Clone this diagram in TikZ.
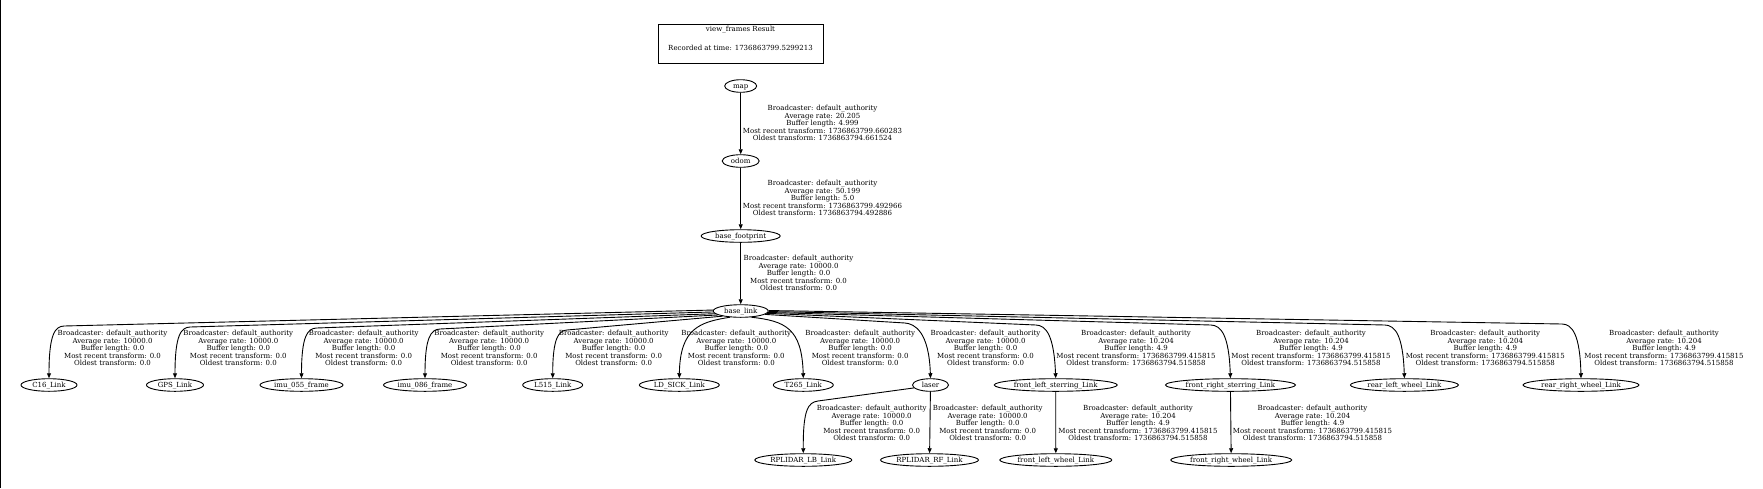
\documentclass[tikz,border=0pt]{standalone}
\usepackage{fontspec}
\setmainfont{DejaVu Serif}
\usetikzlibrary{shapes.geometric,arrows.meta}
\newcommand{\nt}[1]{\raisebox{-2.3pt}[0pt][0pt]{\makebox[0pt]{#1}}}
\begin{document}
\begin{tikzpicture}[x=1pt,y=-1pt,
  font=\fontsize{7.0}{7.5}\selectfont,
  nd/.style={draw, ellipse, inner sep=0pt, minimum height=12.6pt, line width=0.9pt},
  lbl/.style={align=center, inner sep=0pt},
  edge/.style={draw, line width=0.9pt, -{Triangle[length=5pt,width=4pt]}}]
\useasboundingbox (0,0) rectangle (1763,488);
\draw[line width=1pt] (0.5,0) -- (0.5,488);
% title
\node[draw, line width=0.9pt, minimum width=165pt, minimum height=39pt, inner sep=0pt] (title) at (740.5,43.5) {};
\node[inner sep=0pt] (t1) at (740.5,30) {view\_frames Result};
\node[inner sep=0pt] (t2) at (740.5,48) {Recorded at time: 1736863799.5299213};
% nodes
\node[nd, minimum width=32pt] (map) at (740.7,86) {\nt{map}};
\node[nd, minimum width=37pt] (odom) at (740.7,161) {\nt{odom}};
\node[nd, minimum width=79pt] (bf) at (740.7,236) {\nt{base\_footprint}};
\node[nd, minimum width=55pt] (bl) at (740.7,311) {\nt{base\_link}};
\node[nd, minimum width=56pt] (c16) at (49,385) {\nt{C16\_Link}};
\node[nd, minimum width=57pt] (gps) at (175,385) {\nt{GPS\_Link}};
\node[nd, minimum width=83pt] (imu55) at (301.5,385) {\nt{imu\_055\_frame}};
\node[nd, minimum width=83pt] (imu86) at (425,385) {\nt{imu\_086\_frame}};
\node[nd, minimum width=60pt] (l515) at (552.7,385) {\nt{L515\_Link}};
\node[nd, minimum width=80pt] (ld) at (679.3,385) {\nt{LD\_SICK\_Link}};
\node[nd, minimum width=60pt] (t265) at (803.3,385) {\nt{T265\_Link}};
\node[nd, minimum width=36pt] (laser) at (930.5,385) {\nt{laser}};
\node[nd, minimum width=123pt] (fls) at (1055.7,385) {\nt{front\_left\_sterring\_Link}};
\node[nd, minimum width=130pt] (frs) at (1230.4,385) {\nt{front\_right\_sterring\_Link}};
\node[nd, minimum width=108pt] (rlw) at (1404.4,385) {\nt{rear\_left\_wheel\_Link}};
\node[nd, minimum width=116pt] (rrw) at (1581,385) {\nt{rear\_right\_wheel\_Link}};
\node[nd, minimum width=97pt] (lb) at (803.3,460) {\nt{RPLIDAR\_LB\_Link}};
\node[nd, minimum width=98pt] (rf) at (929.5,460) {\nt{RPLIDAR\_RF\_Link}};
\node[nd, minimum width=112pt] (flw) at (1055.8,460) {\nt{front\_left\_wheel\_Link}};
\node[nd, minimum width=121pt] (frw) at (1231.2,460) {\nt{front\_right\_wheel\_Link}};
% edges
\draw[edge] (map) -- (odom);
\draw[edge] (odom) -- (bf);
\draw[edge] (bf) -- (bl);
\draw[edge] (bl.178) -- (64,326) .. controls (55,326.4) and (49,334) .. (c16.north);
\draw[edge] (bl.182) -- (190,327) .. controls (181,327.4) and (175,335) .. (gps.north);
\draw[edge] (bl.186) -- (316.5,328) .. controls (307.5,328.4) and (301.5,336) .. (imu55.north);
\draw[edge] (bl.190) -- (440,329) .. controls (431,329.4) and (425,337) .. (imu86.north);
\draw[edge] (bl.196) -- (567,330) .. controls (558.7,330.5) and (552.7,338) .. (l515.north);
\draw[edge] (bl.210) .. controls (700,322) and (680,328) .. (ld.north);
\draw[edge] (bl.-30) .. controls (785,321) and (802,328) .. (t265.north);
\draw[edge] (bl.-8) -- (905,323) .. controls (915,323.8) and (929,332) .. (laser.north);
\draw[edge] (bl.-5) -- (1036,325) .. controls (1046,325.5) and (1054,335) .. (fls.north);
\draw[edge] (bl.-3) -- (1211,325) .. controls (1221,325.4) and (1229,335) .. (frs.north);
\draw[edge] (bl.-1) -- (1385,325) .. controls (1395,325.3) and (1403,335) .. (rlw.north);
\draw[edge] (bl.1) -- (1562,324) .. controls (1572,324.2) and (1580,334) .. (rrw.north);
\draw[edge] (laser.190) -- (818,401) .. controls (808,402.3) and (803,410) .. (lb.north);
\draw[edge] (laser) -- (rf);
\draw[edge] (fls) -- (flw);
\draw[edge] (frs) -- (frw);
% labels
\node[lbl] (e1) at (822.5,123) {Broadcaster: default\_authority\\Average rate: 20.205\\Buffer length: 4.999\\Most recent transform: 1736863799.660283\\Oldest transform: 1736863794.661524};
\node[lbl] (e2) at (822.5,198) {Broadcaster: default\_authority\\Average rate: 50.199\\Buffer length: 5.0\\Most recent transform: 1736863799.492966\\Oldest transform: 1736863794.492886};
\node[lbl] (e3) at (798.5,273) {Broadcaster: default\_authority\\Average rate: 10000.0\\Buffer length: 0.0\\Most recent transform: 0.0\\Oldest transform: 0.0};
\foreach \x/\n in {112.5/a,238.3/b,363.7/c,489.2/d,613.7/e,736.3/f,860.2/g,985.5/h}{
  \node[lbl] (s\n) at (\x,348) {Broadcaster: default\_authority\\Average rate: 10000.0\\Buffer length: 0.0\\Most recent transform: 0.0\\Oldest transform: 0.0};
}
\foreach \x/\n in {1136/a,1311/b,1485.3/c,1664/d}{
  \node[lbl] (w\n) at (\x,348) {Broadcaster: default\_authority\\Average rate: 10.204\\Buffer length: 4.9\\Most recent transform: 1736863799.415815\\Oldest transform: 1736863794.515858};
}
\foreach \x/\n in {871.7/a,987.7/b}{
  \node[lbl] (r\n) at (\x,423) {Broadcaster: default\_authority\\Average rate: 10000.0\\Buffer length: 0.0\\Most recent transform: 0.0\\Oldest transform: 0.0};
}
\foreach \x/\n in {1138/a,1312.5/b}{
  \node[lbl] (q\n) at (\x,423) {Broadcaster: default\_authority\\Average rate: 10.204\\Buffer length: 4.9\\Most recent transform: 1736863799.415815\\Oldest transform: 1736863794.515858};
}
\end{tikzpicture}
\end{document}
